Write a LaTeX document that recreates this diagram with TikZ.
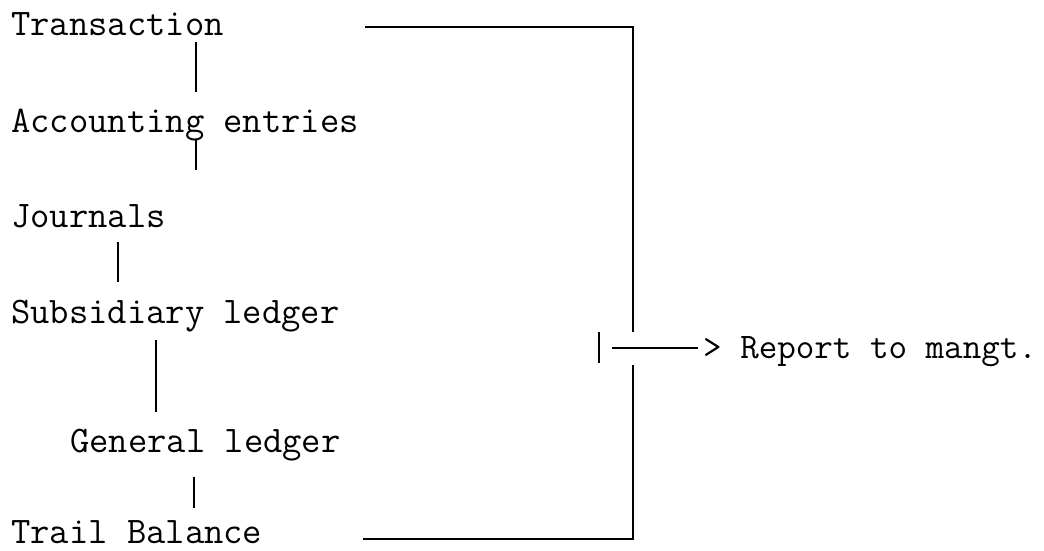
\documentclass[tikz,border=0pt]{standalone}
\usepackage{fontspec}
\usetikzlibrary{calc}
\begin{document}
\begin{tikzpicture}[x=1pt,y=-1pt,
  lbl/.style={anchor=base west,inner sep=0pt,font=\ttfamily\fontsize{37.5}{37.5}\selectfont},
  ln/.style={line width=1.2pt,black}]
\useasboundingbox (0,0) rectangle (1044,550);
\node[lbl] (tr) at (11,35) {Transaction};
\node[lbl] (ac) at (11,132) {Accounting entries};
\node[lbl] (jo) at (11,227) {Journals};
\node[lbl] (su) at (11,323) {Subsidiary ledger};
\node[lbl] (ge) at (70,452) {General ledger};
\node[lbl] (tb) at (11,543) {Trail Balance};
\node[lbl,font=\ttfamily\fontsize{36}{36}\selectfont] (rep) at (703,358) {> Report to mangt.};
\coordinate (c1) at (196,0);
\coordinate (c2) at (118,0);
\coordinate (c3) at (156,0);
\coordinate (c4) at (194,0);
\draw[ln] ($(tr.base -| c1)+(0,7)$) -- ($(ac.base -| c1)+(0,-40)$);
\draw[ln] ($(ac.base -| c1)+(0,8)$) -- ($(jo.base -| c1)+(0,-57)$);
\draw[ln] ($(jo.base -| c2)+(0,15)$) -- ($(su.base -| c2)+(0,-41)$);
\draw[ln] ($(su.base -| c3)+(0,17)$) -- ($(ge.base -| c3)+(0,-40)$);
\draw[ln] ($(ge.base -| c4)+(0,25)$) -- ($(tb.base -| c4)+(0,-35)$);
% bracket
\coordinate (bt) at (365,27);
\coordinate (bb) at (363,539);
\coordinate (bx) at (633,0);
\draw[ln] (bt) -- (bt -| bx) -- (bx |- 0,332);
\draw[ln] (bx |- 0,365) -- (bb -| bx) -- (bb);
% junction tick and arrow line
\coordinate (tk) at (599,332);
\draw[ln] (tk) -- ++(0,31);
\draw[ln] (612,348) -- ($(rep.base west)+(-5,-10)$);
\end{tikzpicture}
\end{document}
